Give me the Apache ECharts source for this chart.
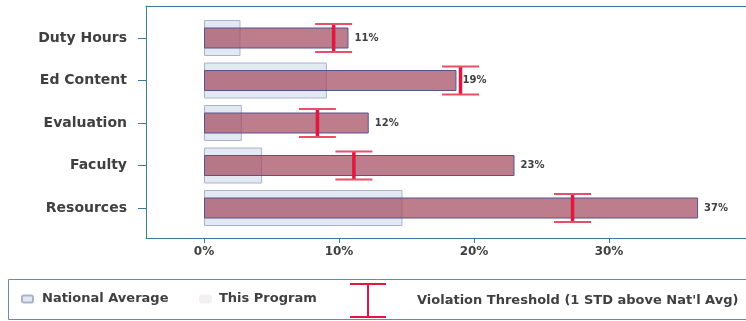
<!DOCTYPE html>
<html>
<head>
<meta charset="utf-8">
<script src="https://cdn.jsdelivr.net/npm/echarts@6/dist/echarts.min.js"></script>
<style>
html,body{margin:0;padding:0;background:#fff;}
#chart{width:746px;height:321px;}
</style>
</head>
<body>
<div id="chart"></div>
<script>
const categories = ['Duty Hours', 'Ed Content', 'Evaluation', 'Faculty', 'Resources'];
const nationalAverage = [2.7, 9.1, 2.8, 4.3, 14.7];
const thisProgram = [10.7, 18.7, 12.2, 23.0, 36.6];
const threshold = [9.6, 19.0, 8.4, 11.1, 27.3];
const xTicks = [0, 10, 20, 30];

const AXIS_COLOR = '#3d7a99';
const FONT = 'DejaVu Sans';
const TEXT = '#404040';
const X_MIN = -4.3;
const X_MAX = 40.15;

const chart = echarts.init(document.getElementById('chart'));

const option = {
  animation: false,
  backgroundColor: '#fff',
  grid: [
    { left: 146, right: 0, top: 6, bottom: 83 },
    { left: 146, right: 0, top: 16.75, bottom: 91.75 }
  ],
  xAxis: [
    {
      type: 'value', gridIndex: 0, min: X_MIN, max: X_MAX, position: 'bottom',
      splitLine: { show: false },
      axisLine: { show: true, onZero: false, lineStyle: { color: AXIS_COLOR, width: 1 } },
      axisTick: { show: true, length: 5, customValues: xTicks, lineStyle: { color: AXIS_COLOR } },
      axisLabel: { customValues: xTicks, formatter: v => v + '%', margin: 8,
        color: TEXT, fontFamily: FONT, fontSize: 12, fontWeight: 'bold' }
    },
    {
      type: 'value', gridIndex: 0, min: X_MIN, max: X_MAX, position: 'top',
      splitLine: { show: false }, axisTick: { show: false }, axisLabel: { show: false },
      axisLine: { show: true, onZero: false, lineStyle: { color: AXIS_COLOR, width: 1 } }
    },
    {
      type: 'value', gridIndex: 1, min: X_MIN, max: X_MAX, show: false
    }
  ],
  yAxis: [
    {
      type: 'value', gridIndex: 0, min: 0, max: 1, position: 'left',
      splitLine: { show: false }, axisTick: { show: false }, axisLabel: { show: false },
      axisLine: { show: true, onZero: false, lineStyle: { color: AXIS_COLOR, width: 1 } }
    },
    {
      type: 'category', gridIndex: 1, data: categories, inverse: true,
      axisLine: { show: false, onZero: false },
      axisTick: { show: true, alignWithLabel: true, length: 8, lineStyle: { color: AXIS_COLOR } },
      axisLabel: { margin: 19, color: TEXT, fontFamily: FONT, fontSize: 14, fontWeight: 'bold' }
    },
    {
      type: 'category', gridIndex: 1, data: categories, inverse: true, show: false
    }
  ],
  legend: [
    {
      left: 21, top: 291, padding: 0, selectedMode: false,
      itemWidth: 11, itemHeight: 7,
      data: ['National Average'],
      textStyle: { fontFamily: FONT, fontSize: 13, fontWeight: 'bold', color: TEXT, lineHeight: 16, padding: [0, 0, 0, 4] }
    },
    {
      left: 199, top: 291, padding: 0, selectedMode: false,
      itemWidth: 11, itemHeight: 7,
      data: [{ name: 'This Program', itemStyle: { color: '#f3f0f2', borderColor: '#f3f0f2' } }],
      textStyle: { fontFamily: FONT, fontSize: 13, fontWeight: 'bold', color: TEXT, lineHeight: 16, padding: [0, 0, 0, 3] }
    },
    {
      left: 350, top: 283, padding: 0, selectedMode: false,
      itemWidth: 36, itemHeight: 35,
      data: [{ name: 'Violation Threshold (1 STD above Nat\'l Avg)',
        icon: 'path://M0,0 H36 V2 H19 V33 H36 V35 H0 V33 H17 V2 H0 Z' }],
      textStyle: { fontFamily: FONT, fontSize: 13, fontWeight: 'bold', color: TEXT, lineHeight: 16, padding: [0, 0, 0, 26] }
    }
  ],
  graphic: [
    {
      type: 'rect', shape: { x: 8.5, y: 279.5, width: 760, height: 40 },
      style: { fill: 'none', stroke: '#6a8aa8', lineWidth: 1 }, silent: true
    }
  ],
  series: [
    {
      name: 'National Average', type: 'bar', xAxisIndex: 2, yAxisIndex: 1,
      data: nationalAverage, barWidth: 36, z: 2,
      itemStyle: { color: '#e3e9f3', borderColor: '#aab4c8', borderWidth: 1 }
    },
    {
      name: 'This Program', type: 'bar', xAxisIndex: 2, yAxisIndex: 2,
      data: thisProgram, barWidth: 21, z: 3,
      itemStyle: { color: 'rgba(165, 75, 95, 0.72)', borderColor: '#55558c', borderWidth: 1 },
      label: {
        show: true, position: 'right', distance: 6,
        formatter: p => Math.round(p.value) + '%',
        fontFamily: FONT, fontSize: 10, fontWeight: 'bold', color: TEXT
      }
    },
    {
      name: 'Violation Threshold (1 STD above Nat\'l Avg)', type: 'custom',
      xAxisIndex: 2, yAxisIndex: 2, z: 5,
      itemStyle: { color: '#e3173e' },
      encode: { x: 0, y: 1 },
      data: threshold.map((v, i) => [v, i]),
      renderItem: function (params, api) {
        const p = api.coord([api.value(0), api.value(1)]);
        const cx = p[0], cy = p[1];
        const h = 14, w = 18.5;
        return {
          type: 'group',
          children: [
            { type: 'line', shape: { x1: cx, y1: cy - h, x2: cx, y2: cy + h },
              style: { stroke: '#e3173e', lineWidth: 3.5 } },
            { type: 'line', shape: { x1: cx - w, y1: cy - h, x2: cx + w, y2: cy - h },
              style: { stroke: '#e8506a', lineWidth: 2 } },
            { type: 'line', shape: { x1: cx - w, y1: cy + h, x2: cx + w, y2: cy + h },
              style: { stroke: '#e8506a', lineWidth: 2 } }
          ]
        };
      }
    }
  ]
};

chart.setOption(option);
</script>
</body>
</html>
